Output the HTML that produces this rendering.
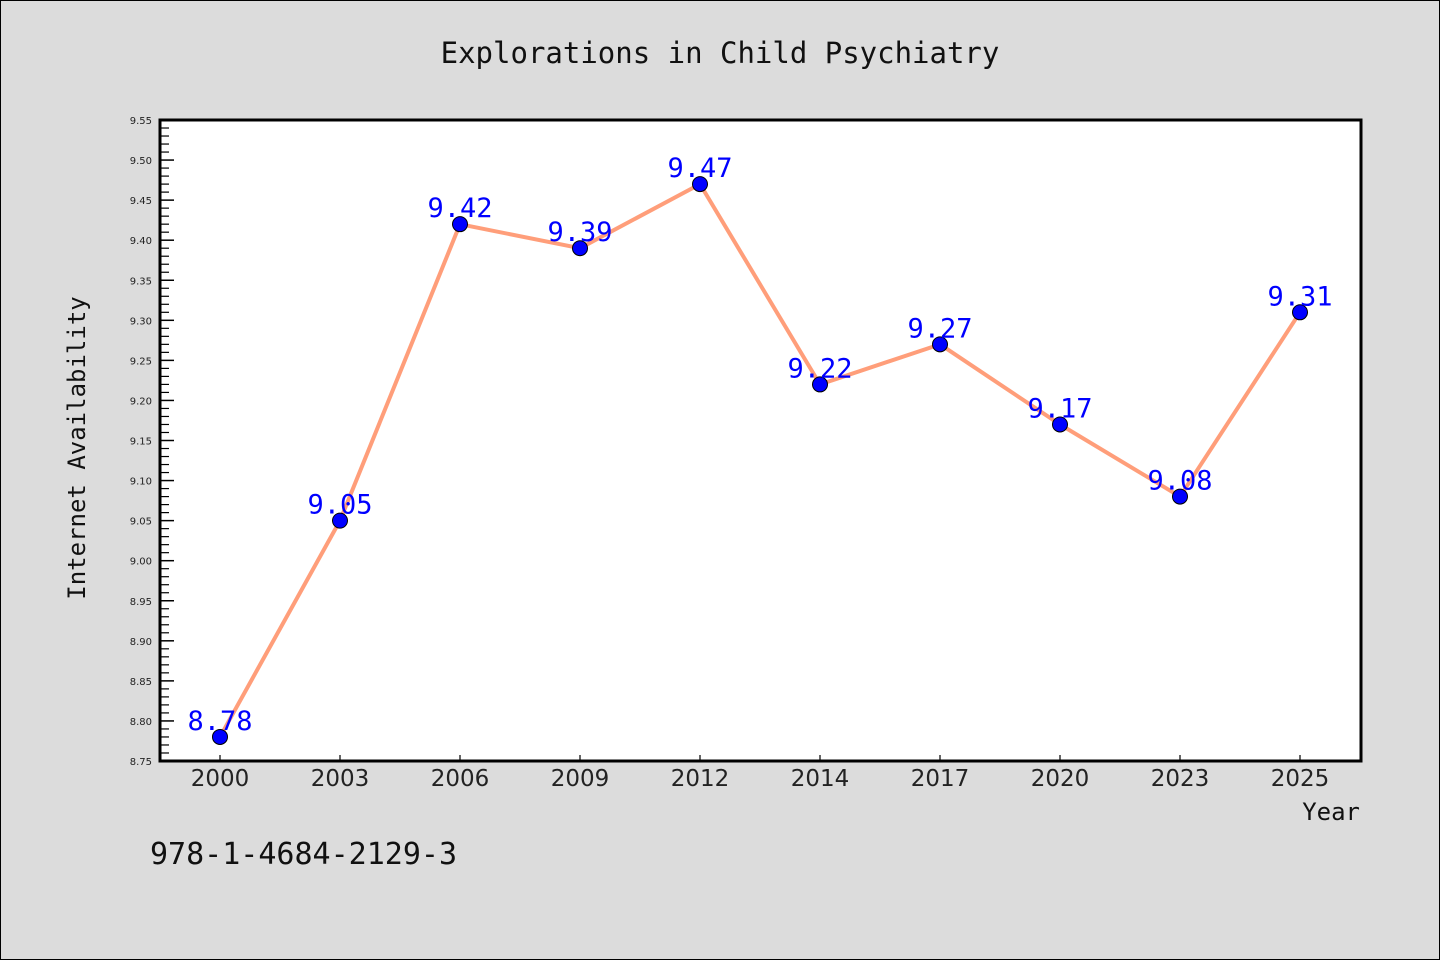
<!DOCTYPE html>
<html><head><meta charset="utf-8"><style>
body{margin:0;background:#dcdcdc;}
svg{display:block;}
</style></head><body>
<svg id="chart" width="1440" height="960" xmlns="http://www.w3.org/2000/svg">
<rect x="0.5" y="0.5" width="1439" height="959" fill="#dcdcdc" stroke="#000"/>
<text x="720" y="63" text-anchor="middle" font-family="DejaVu Sans Mono, monospace" font-size="29" fill="#111">Explorations in Child Psychiatry</text>
<rect x="160" y="120" width="1201" height="641" fill="#fff"/>
<g id="axes"></g>
<g id="marks"></g>
<rect x="160" y="120" width="1201" height="641" fill="none" stroke="#000" stroke-width="3"/>
<text transform="translate(85,448) rotate(-90)" text-anchor="middle" font-family="DejaVu Sans Mono, monospace" font-size="24" fill="#111">Internet Availability</text>
<text x="1360" y="820" text-anchor="end" font-family="DejaVu Sans Mono, monospace" font-size="24" fill="#111">Year</text>
<text x="150" y="864" font-family="DejaVu Sans Mono, monospace" font-size="30" fill="#111">978-1-4684-2129-3</text>
</svg>
<script>
const categories = ["2000","2003","2006","2009","2012","2014","2017","2020","2023","2025"];
const values = [8.78, 9.05, 9.42, 9.39, 9.47, 9.22, 9.27, 9.17, 9.08, 9.31];
const yTicks = [8.75,8.80,8.85,8.90,8.95,9.00,9.05,9.10,9.15,9.20,9.25,9.30,9.35,9.40,9.45,9.50,9.55];
const NS="http://www.w3.org/2000/svg";
const L=160,R=1360,T=120,B=761,ymin=8.75,ymax=9.55;
const band=(R-L)/categories.length;
function xs(i){return L+band*(i+0.5);}
function ys(v){return B-(v-ymin)/(ymax-ymin)*(B-T);}
function mk(tag,attrs,parent){const e=document.createElementNS(NS,tag);for(const k in attrs)e.setAttribute(k,attrs[k]);parent.appendChild(e);return e;}
const axes=document.getElementById('axes'),marks=document.getElementById('marks');
yTicks.forEach((v,i)=>{
  const y=ys(v);
  const t=mk('line',{x1:L,x2:L+14,y1:y,y2:y,stroke:'#000','stroke-width':1.5},axes);
  
  
  const lb=mk('text',{x:L-8,y:y+4,'text-anchor':'end','font-family':'DejaVu Sans, sans-serif','font-size':10,fill:'#222'},axes);
  lb.textContent=v.toFixed(2);
  
  
  if(i<yTicks.length-1){
    for(let k=1;k<5;k++){
      const yy=ys(v+(yTicks[i+1]-v)*k/5);
      const m=mk('line',{x1:L,x2:L+9,y1:yy,y2:yy,stroke:'#000','stroke-width':1.2},axes);
      
      
    }
  }
});
categories.forEach((c,i)=>{
  const x=xs(i);
  const t=mk('line',{x1:x,x2:x,y1:B,y2:B-6,stroke:'#000','stroke-width':1.2},axes);
  
  
  const lb=mk('text',{x:x,y:B+25,'text-anchor':'middle','font-family':'DejaVu Sans, sans-serif','font-size':23,fill:'#222'},axes);
  lb.textContent=c;
  
  
});
const pts=values.map((v,i)=>xs(i)+','+ys(v)).join(' ');
const line=mk('polyline',{points:pts,fill:'none',stroke:'#ff9e7a','stroke-width':4,'stroke-linejoin':'round'},marks);


values.forEach((v,i)=>{
  const c=mk('circle',{cx:xs(i),cy:ys(v),r:7.5,fill:'#0000ff',stroke:'#000','stroke-width':1},marks);
  
  
});
values.forEach((v,i)=>{
  const t=mk('text',{x:xs(i),y:ys(v)-7,'text-anchor':'middle','font-family':'DejaVu Sans Mono, monospace','font-size':27,fill:'#0000ff'},marks);
  t.textContent=v.toFixed(2);
  
  
});
</script>
</body></html>
